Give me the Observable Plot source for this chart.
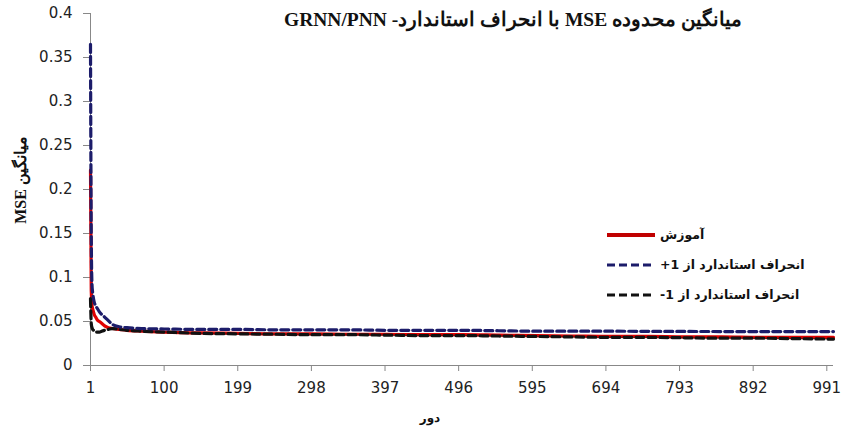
<!DOCTYPE html>
<html>
<head>
<meta charset="utf-8">
<script src="https://cdn.jsdelivr.net/npm/d3@7"></script>
<script src="https://cdn.jsdelivr.net/npm/@observablehq/plot@0.6"></script>
<style>
  html, body { margin: 0; padding: 0; background: #fff; }
</style>
</head>
<body>
<div id="chart"></div>
<script>
// ---- data ----
const titleText = "میانگین محدوده MSE با انحراف استاندارد- GRNN/PNN";
const yLabelText = "میانگین MSE";
const xLabelText = "دور";
const seriesNames = ["آموزش", "انحراف استاندارد از 1+", "انحراف استاندارد از 1-"];

const xTicks = [1, 100, 199, 298, 397, 496, 595, 694, 793, 892, 991];
const yTicks = [0, 0.05, 0.1, 0.15, 0.2, 0.25, 0.3, 0.35, 0.4];

const epochs = [1, 2, 3, 4, 5, 6, 8, 10, 13, 16, 20, 25, 30, 40, 50, 70, 100, 150, 200, 250, 300, 350, 400, 450, 500, 550, 600, 650, 700, 750, 800, 850, 900, 950, 1000];

const training = [0.222, 0.085, 0.069, 0.064, 0.061, 0.058, 0.055, 0.052, 0.050, 0.048, 0.045, 0.043, 0.042, 0.041, 0.040, 0.039, 0.038, 0.037, 0.0365, 0.036, 0.036, 0.0355, 0.0355, 0.035, 0.035, 0.0345, 0.034, 0.0335, 0.033, 0.033, 0.0325, 0.0325, 0.032, 0.032, 0.032];

const plusStd = [0.365, 0.15, 0.092, 0.082, 0.076, 0.072, 0.068, 0.065, 0.061, 0.058, 0.055, 0.051, 0.047, 0.044, 0.043, 0.042, 0.0415, 0.041, 0.041, 0.0405, 0.0405, 0.0405, 0.040, 0.040, 0.040, 0.0395, 0.039, 0.039, 0.039, 0.0388, 0.0387, 0.0386, 0.0386, 0.0385, 0.0385];

const minusStd = [0.076, 0.048, 0.043, 0.041, 0.040, 0.039, 0.038, 0.038, 0.038, 0.039, 0.040, 0.041, 0.042, 0.041, 0.040, 0.039, 0.038, 0.0365, 0.036, 0.0355, 0.035, 0.035, 0.0345, 0.034, 0.034, 0.0335, 0.033, 0.0325, 0.032, 0.032, 0.0315, 0.031, 0.031, 0.0305, 0.030];

const colors = ["#e00000", "#1c1c6a", "#111111"];
const legendColors = ["#c00000", "#1c1c6a", "#111111"];
const dashes = [null, "8,4", "8,4"];

// ---- build rows ----
const rows = [];
[training, plusStd, minusStd].forEach((arr, s) => {
  arr.forEach((v, i) => rows.push({ epoch: epochs[i], value: v, series: seriesNames[s] }));
});
const bySeries = name => rows.filter(r => r.series === name);

const plot = Plot.plot({
  width: 842,
  height: 432,
  marginLeft: 90,
  marginRight: 9,
  marginTop: 13,
  marginBottom: 67,
  style: { fontFamily: "'DejaVu Sans', Verdana, sans-serif", fontSize: "15px", color: "#222", background: "#fff", overflow: "visible" },
  x: { domain: [1, 1000], ticks: xTicks, tickFormat: d => String(d), label: null, tickSize: 6, tickPadding: 11 },
  y: { domain: [0, 0.4], ticks: yTicks, tickFormat: d => String(d), label: null, tickSize: 7, tickPadding: 11 },
  marks: [
    Plot.ruleY([0], { stroke: "#888", strokeWidth: 1 }),
    Plot.ruleX([1], { stroke: "#888", strokeWidth: 1 }),
    Plot.line(bySeries(seriesNames[0]), { x: "epoch", y: "value", stroke: colors[0], strokeWidth: 3.2, curve: "monotone-x" }),
    Plot.line(bySeries(seriesNames[2]), { x: "epoch", y: "value", stroke: colors[2], strokeWidth: 3.2, strokeDasharray: dashes[2], curve: "monotone-x" }),
    Plot.line(bySeries(seriesNames[1]), { x: "epoch", y: "value", stroke: colors[1], strokeWidth: 3.2, strokeDasharray: dashes[1], curve: "monotone-x" })
  ]
});

document.getElementById("chart").appendChild(plot);

const svg = d3.select(plot);
// gray tick marks
svg.selectAll("g[aria-label$='tick'] path, .tick line").attr("stroke", "#888");

// title
const title = svg.append("text")
  .attr("x", 513).attr("y", 22)
  .attr("text-anchor", "middle")
  .attr("dominant-baseline", "middle")
  .attr("direction", "rtl")
  .style("font-family", "'Liberation Serif', 'Times New Roman', serif")
  .style("font-weight", "bold")
  .style("font-size", "19.5px")
  .attr("fill", "#111")
  .text(titleText);
{
  const b = title.node().getBBox();
  const cx = b.x + b.width / 2;
  title.attr("x", 513 + (513 - cx));
}

// y label
svg.append("text")
  .attr("transform", "translate(22,180) rotate(-90)")
  .attr("text-anchor", "middle")
  .attr("dominant-baseline", "middle")
  .attr("direction", "rtl")
  .style("font-family", "'Liberation Serif', 'Times New Roman', serif")
  .style("font-weight", "bold")
  .style("font-size", "16px")
  .attr("fill", "#111")
  .text(yLabelText);

// x label
svg.append("text")
  .attr("x", 430).attr("y", 418)
  .attr("text-anchor", "middle")
  .attr("dominant-baseline", "middle")
  .attr("direction", "rtl")
  .style("font-family", "'DejaVu Sans', sans-serif")
  .style("font-weight", "bold")
  .style("font-size", "12px")
  .attr("fill", "#111")
  .text(xLabelText);

// legend
const lg = svg.append("g").attr("aria-label", "legend");
seriesNames.forEach((name, i) => {
  const y = 235 + i * 30;
  lg.append("line")
    .attr("x1", 607).attr("x2", 655).attr("y1", y).attr("y2", y)
    .attr("stroke", legendColors[i])
    .attr("stroke-width", i === 0 ? 4 : 3)
    .attr("stroke-dasharray", dashes[i]);
  lg.append("text")
    .attr("x", 660).attr("y", y)
    .attr("text-anchor", "end")
    .attr("direction", "rtl")
    .attr("dominant-baseline", "middle")
    .style("font-family", "'DejaVu Sans', sans-serif")
    .style("font-weight", "bold")
    .style("font-size", "12.5px")
    .attr("fill", "#111")
    .text(name);
});
</script>
</body>
</html>
